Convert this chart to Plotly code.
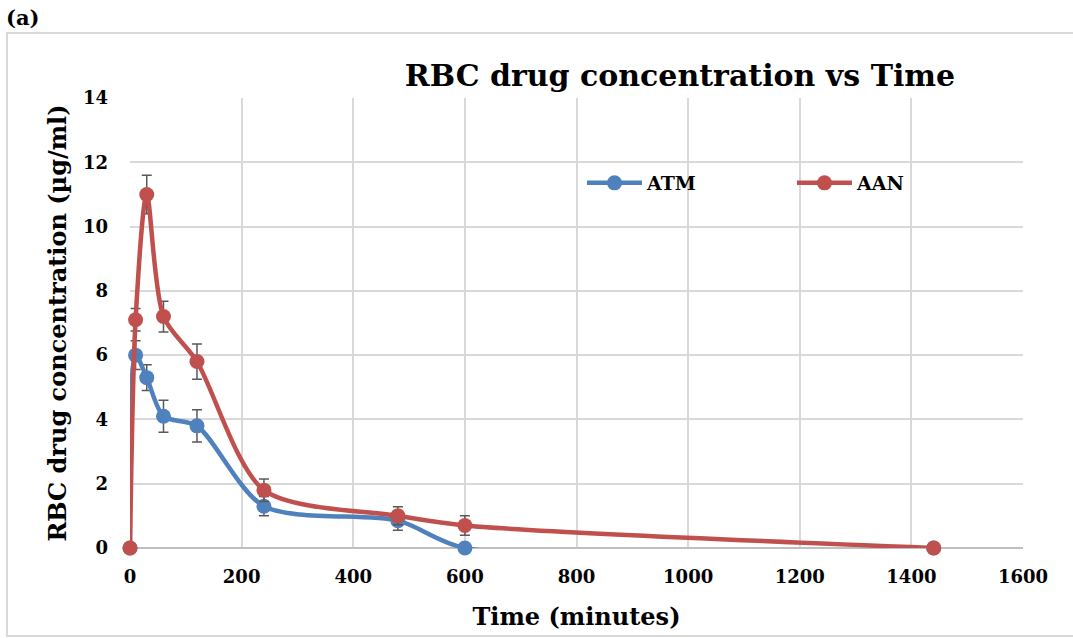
import plotly.graph_objects as go

time_min = [0, 10, 30, 60, 120, 240, 480, 600, 1440]
atm = [0, 6.0, 5.3, 4.1, 3.8, 1.3, 0.85, 0, 0]
atm_err = [0, 0.45, 0.4, 0.5, 0.5, 0.3, 0.3, 0, 0]
aan = [0, 7.1, 11.0, 7.2, 5.8, 1.8, 1.0, 0.7, 0]
aan_err = [0, 0.35, 0.6, 0.48, 0.55, 0.35, 0.28, 0.3, 0]

FONT = "DejaVu Serif"

fig = go.Figure()
fig.add_trace(go.Scatter(
    x=time_min, y=atm, name="<b>ATM</b>", mode="lines+markers", cliponaxis=False,
    line=dict(color="#4F81BD", width=4.5, shape="spline", smoothing=0.8),
    marker=dict(size=15, color="#4F81BD"),
    error_y=dict(type="data", array=atm_err, visible=True, color="#595959", thickness=1.5, width=5),
))
fig.add_trace(go.Scatter(
    x=time_min, y=aan, name="<b>AAN</b>", mode="lines+markers", cliponaxis=False,
    line=dict(color="#C0504D", width=4.5, shape="spline", smoothing=0.8),
    marker=dict(size=15, color="#C0504D"),
    error_y=dict(type="data", array=aan_err, visible=True, color="#595959", thickness=1.5, width=5),
))

W, H = 1073, 638
L, R, T, B = 130, 50, 98, 90
pw = W - L - R
ph = H - T - B

def px(xp):
    return (xp - L) / pw

def py(yp):
    return (H - B - yp) / ph

fig.update_layout(
    width=W, height=H,
    margin=dict(l=L, r=R, t=T, b=B, autoexpand=False),
    paper_bgcolor="white", plot_bgcolor="white",
    font=dict(family=FONT, color="black"),
    title=dict(text="<b>RBC drug concentration vs Time</b>", x=680 / W, xanchor="center",
               y=1 - 75 / H, yanchor="middle", font=dict(size=30, family=FONT, color="black")),
    xaxis=dict(range=[0, 1600], dtick=200, showgrid=True, gridcolor="#d9d9d9", gridwidth=1.5,
               zeroline=False, showline=False, ticks="", ticklabelstandoff=16,
               tickprefix="<b>", ticksuffix="</b>",
               tickfont=dict(size=18, family=FONT, color="black"),
               title=dict(text="<b>Time (minutes)</b>", font=dict(size=24, family=FONT, color="black"), standoff=22)),
    yaxis=dict(range=[0, 14], dtick=2, showgrid=True, gridcolor="#d9d9d9", gridwidth=1.5,
               zeroline=True, zerolinecolor="#bfbfbf", zerolinewidth=1.5, ticks="", ticklabelstandoff=21,
               tickprefix="<b>", ticksuffix="</b>",
               tickfont=dict(size=18, family=FONT, color="black"),
               title=dict(text="<b>RBC drug concentration (µg/ml)</b>", font=dict(size=24, family=FONT, color="black"), standoff=9)),
    legend=dict(orientation="h", x=px(582), y=py(183), xanchor="left", yanchor="middle",
                font=dict(size=19, family=FONT, color="black"), entrywidth=140, itemwidth=55,
                bgcolor="rgba(0,0,0,0)"),
    showlegend=True,
)

# outer border
fig.add_shape(type="rect", xref="paper", yref="paper",
              x0=px(7), x1=px(1085), y0=py(636), y1=py(33),
              line=dict(color="#d9d9d9", width=2), fillcolor="rgba(0,0,0,0)", layer="below")

fig.add_annotation(text="<b>(a)</b>", xref="paper", yref="paper", x=px(4), y=py(18),
                   xanchor="left", yanchor="middle", showarrow=False,
                   font=dict(size=21, family=FONT, color="black"))

fig.write_html("out.html", config={"displayModeBar": False},
               post_script="document.body.style.margin='0';document.body.style.overflow='hidden';")
